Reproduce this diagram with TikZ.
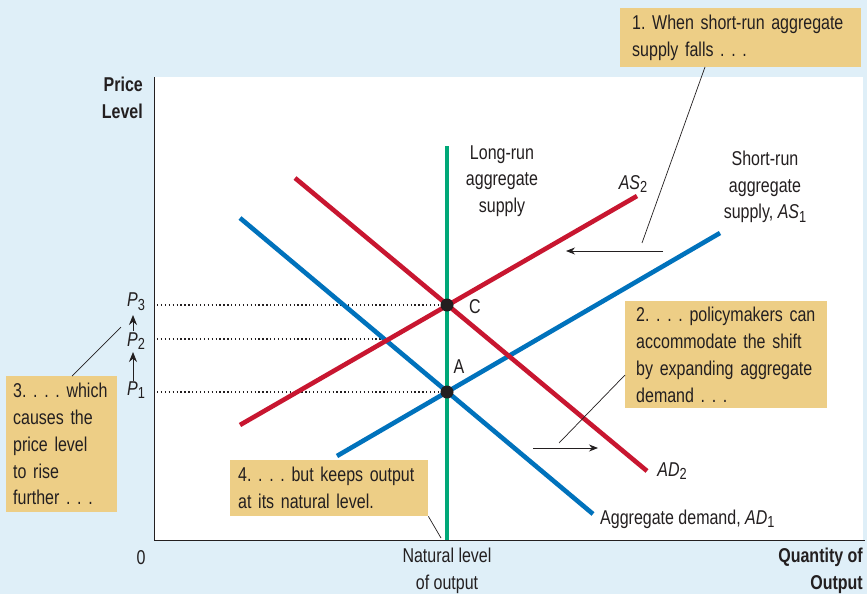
\documentclass[tikz,border=0pt]{standalone}
\usepackage{fontspec}
\setmainfont[FakeStretch=0.80]{Liberation Sans}
\usetikzlibrary{arrows.meta}
\definecolor{bgblue}{RGB}{223,239,248}
\definecolor{boxtan}{RGB}{237,206,134}
\definecolor{adred}{RGB}{200,22,48}
\definecolor{adblue}{RGB}{0,114,188}
\definecolor{lrgreen}{RGB}{0,168,120}
\definecolor{txt}{RGB}{35,31,32}
\newcommand{\sub}[1]{\raisebox{-0.35ex}{\fontsize{16}{16}\selectfont #1}}
\newcommand{\nohyph}{\hyphenpenalty=10000 \exhyphenpenalty=10000 \relax}
\frenchspacing
\begin{document}
\frenchspacing
\begin{tikzpicture}[x=1pt,y=-1pt,
  lbl/.style={text=txt,font=\fontsize{20}{26.5}\selectfont\frenchspacing,inner sep=0pt},
  boldlbl/.style={lbl,font=\fontsize{20}{26.5}\selectfont\bfseries},
  notebox/.style={fill=boxtan,text=txt,font={\fontsize{20}{26.8}\selectfont\frenchspacing\nohyph},align=left,anchor=north west,inner ysep=0pt},
  curve/.style={line width=4.6pt},
  leader/.style={draw=txt,line width=0.7pt},
  shiftarrow/.style={draw=txt,line width=0.8pt,-{Stealth[length=9pt,width=7pt]}},
  parrow/.style={draw=txt,line width=1pt,-{Stealth[length=10pt,width=8pt]}},
  dotline/.style={draw=txt,line width=1.3pt,dash pattern=on 1.3pt off 2.6pt},
  eqpt/.style={circle,fill=txt,inner sep=0pt,minimum size=13pt}]
\fill[bgblue] (0,0) rectangle (867,594);
\useasboundingbox (0,0) rectangle (867,594);
\fill[white] (154,77) rectangle (863,540);
% axes
\coordinate (otop) at (154,77);
\coordinate (orig) at (154,540);
\coordinate (xend) at (865,540);
\draw[txt,line width=1pt] (otop) -- (orig) -- (xend);
% key coordinates
\coordinate (Cpt) at (447,305);
\coordinate (Apt) at (447,392);
\coordinate (P2pt) at (386,339);
\coordinate (y3) at (157,305);
\coordinate (y2) at (157,339);
\coordinate (y1) at (157,392);
\draw[dotline] (y3) -- (Cpt);
\draw[dotline] (y2) -- (P2pt);
\draw[dotline] (y1) -- (Apt);
% curves
\coordinate (lrtop) at (447,146);
\coordinate (lrbot) at (447,540);
\coordinate (ad1a) at (240,218);
\coordinate (ad1b) at (593,514);
\coordinate (as1a) at (337,456);
\coordinate (as1b) at (720,233);
\coordinate (as2a) at (240,425);
\coordinate (as2b) at (637,196);
\coordinate (ad2a) at (295,178);
\coordinate (ad2b) at (647,471);
\draw[curve,adblue] (ad1a) -- (ad1b);
\draw[curve,adblue] (as1a) -- (as1b);
\draw[curve,adred] (as2a) -- (as2b);
\draw[curve,adred] (ad2a) -- (ad2b);
\draw[curve,lrgreen] (lrtop) -- (lrbot);
\node[eqpt] (C) at (Cpt) {};
\node[eqpt] (A) at (Apt) {};
\node[lbl] (Clbl) at (475,307) {C};
\node[lbl] (Albl) at (459,367) {A};
% curve labels
\node[lbl,align=center] (lrlbl) at (502,181) {Long-run\\aggregate\\supply};
\node[lbl] (as2lbl) at (633,184) {\textit{AS}\sub{2}};
\node[lbl,align=center] (srlbl) at (765,187) {Short-run\\aggregate\\supply, \textit{AS}\sub{1}};
\node[lbl] (ad2lbl) at (672,471) {\textit{AD}\sub{2}};
\node[lbl,anchor=west] (ad1lbl) at (600,519) {Aggregate demand, \textit{AD}\sub{1}};
% axis labels
\node[boldlbl,align=right,anchor=east] (ylbl) at (143,98) {Price\\Level};
\node[boldlbl,align=right,anchor=east] (xlbl) at (863,571) {Quantity of\\Output};
\node[lbl] (zero) at (141,558) {0};
\node[lbl,align=center] (natlbl) at (447,571) {Natural level\\of output};
% price labels
\node[lbl] (P3) at (136,302) {\textit{P}\sub{3}};
\node[lbl] (P2) at (136,341) {\textit{P}\sub{2}};
\node[lbl] (P1) at (136,390) {\textit{P}\sub{1}};
\coordinate (pa1) at (133,381);
\coordinate (pa2) at (133,352);
\coordinate (pa3) at (133,331);
\coordinate (pa4) at (133,315);
\draw[parrow] (pa1) -- (pa2);
\draw[parrow] (pa3) -- (pa4);
% shift arrows
\coordinate (s1a) at (663,251);
\coordinate (s1b) at (566,251);
\draw[shiftarrow] (s1a) -- (s1b);
\coordinate (s2a) at (533,448);
\coordinate (s2b) at (598,448);
\draw[shiftarrow] (s2a) -- (s2b);
% note boxes
\node[notebox,minimum width=241pt,minimum height=59pt,text width=217pt,inner xsep=12pt] (n1) at (620,8)
  {1. When short-run aggregate\\supply falls . . .};
\node[notebox,minimum width=202pt,minimum height=107pt,text width=180pt,inner xsep=11pt] (n2) at (625,301)
  {2. . . . policymakers can\\accommodate the shift\\by expanding aggregate\\demand . . .};
\node[notebox,minimum width=111pt,minimum height=136pt,text width=97pt,inner xsep=7pt] (n3) at (6,376)
  {3. . . . which\\causes the\\price level\\to rise\\further . . .};
\node[notebox,minimum width=198pt,minimum height=56pt,text width=182pt,inner xsep=8pt] (n4) at (230,460)
  {4. . . . but keeps output\\at its natural level.};
% leaders
\coordinate (l1a) at (705,67);
\coordinate (l1) at (642,243);
\coordinate (l2a) at (625,375);
\coordinate (l2) at (559,443);
\coordinate (l3a) at (72,376);
\coordinate (l3) at (121,327);
\coordinate (l4) at (441,538);
\draw[leader] (l1a) -- (l1);
\draw[leader] (l2a) -- (l2);
\draw[leader] (l3a) -- (l3);
\draw[leader] (n4.south east) -- (l4);
\end{tikzpicture}
\end{document}
